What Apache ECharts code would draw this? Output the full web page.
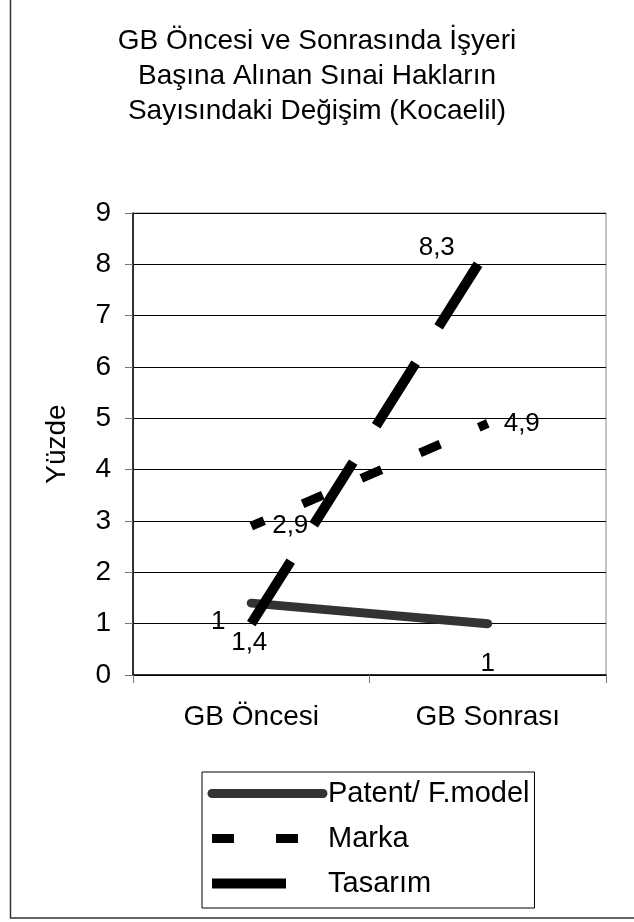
<!DOCTYPE html>
<html>
<head>
<meta charset="utf-8">
<script src="https://cdn.jsdelivr.net/npm/echarts@6/dist/echarts.min.js"></script>
<style>
  html, body { margin: 0; padding: 0; background: #fff; }
  #chart { width: 634px; height: 922px; }
</style>
</head>
<body>
<div id="chart"></div>
<script>
// Categories and values (per workplace, percent)
const categories = ['GB Öncesi', 'GB Sonrası'];
const seriesNames = ['Patent/ F.model', 'Marka', 'Tasarım'];
const patentValues = [1.4, 1];
const markaValues = [2.9, 4.9];
const tasarimValues = [1, 8.3];
const yTicks = [0, 1, 2, 3, 4, 5, 6, 7, 8, 9];

const titleText = 'GB Öncesi ve Sonrasında İşyeri\nBaşına Alınan Sınai Hakların\nSayısındaki Değişim (Kocaelil)';
const yName = 'Yüzde';

const FONT = 'Liberation Sans, Arial, sans-serif';

// Label placement offsets for each point (x, y in px)
const patentLabelOffsets = [[-2, 40], [0, 40]];
const markaLabelOffsets = [[39, 0], [34, 0]];
const tasarimLabelOffsets = [[-33, -2], [-51, -1]];

function fmt(v) {
  return String(v).replace('.', ',');
}

function points(values, offsets) {
  return values.map((v, i) => ({
    value: v,
    label: { offset: offsets[i] }
  }));
}

const labelBase = {
  show: true,
  position: 'inside',
  color: '#000',
  fontFamily: FONT,
  fontSize: 26,
  formatter: p => fmt(p.value)
};

// point markers are only anchors for the value labels
const hiddenSymbol = { color: 'rgba(0,0,0,0)', borderWidth: 0 };

const chart = echarts.init(document.getElementById('chart'), null, { renderer: 'canvas' });

chart.setOption({
  backgroundColor: '#fff',
  animation: false,
  title: {
    text: titleText,
    left: 'center',
    top: 19,
    textStyle: {
      fontFamily: FONT,
      fontSize: 28,
      fontWeight: 'normal',
      color: '#000',
      lineHeight: 35
    }
  },
  graphic: [{
    type: 'rect',
    shape: { x: 10.5, y: -2, width: 630, height: 920 },
    style: { fill: 'none', stroke: '#333', lineWidth: 1.5 },
    silent: true,
    z: 100
  }],
  grid: {
    left: 133,
    right: 28,
    top: 213,
    bottom: 247,
    show: true,
    borderColor: '#888',
    borderWidth: 1,
    backgroundColor: 'transparent'
  },
  legend: {
    orient: 'vertical',
    left: 202,
    top: 772,
    padding: [7, 5, 10, 5],
    itemGap: 16,
    itemWidth: 111,
    itemHeight: 14,
    borderColor: '#000',
    borderWidth: 1,
    data: seriesNames,
    itemStyle: { opacity: 0 },
    lineStyle: { width: 'inherit', type: 'inherit', cap: 'inherit', dashOffset: 0 },
    textStyle: { fontFamily: FONT, fontSize: 29, color: '#000' }
  },
  xAxis: {
    type: 'category',
    data: categories,
    boundaryGap: true,
    axisLine: { lineStyle: { color: '#000', width: 1.5 } },
    axisTick: { show: true, length: 8, interval: 0, lineStyle: { color: '#777', width: 1 } },
    axisLabel: { fontFamily: FONT, fontSize: 28, color: '#000', margin: 28, interval: 0 },
    splitLine: { show: false }
  },
  yAxis: {
    type: 'value',
    min: yTicks[0],
    max: yTicks[yTicks.length - 1],
    interval: 1,
    name: yName,
    nameLocation: 'middle',
    nameRotate: 90,
    nameGap: 62,
    nameTextStyle: { fontFamily: FONT, fontSize: 28, color: '#000' },
    axisLine: { show: true, lineStyle: { color: '#000', width: 1.5 } },
    axisTick: { show: true, length: 8, lineStyle: { color: '#777', width: 1 } },
    axisLabel: { fontFamily: FONT, fontSize: 28, color: '#000', margin: 22 },
    splitLine: { show: true, lineStyle: { color: '#000', width: 1 } }
  },
  series: [
    {
      name: seriesNames[0],
      type: 'line',
      data: points(patentValues, patentLabelOffsets),
      symbol: 'circle',
      symbolSize: 1,
      showSymbol: true,
      itemStyle: hiddenSymbol,
      lineStyle: { color: '#333', width: 9, cap: 'round', join: 'round' },
      label: labelBase,
      z: 3
    },
    {
      name: seriesNames[1],
      type: 'line',
      data: points(markaValues, markaLabelOffsets),
      symbol: 'circle',
      symbolSize: 1,
      showSymbol: true,
      itemStyle: hiddenSymbol,
      lineStyle: { color: '#000', width: 9, type: [22, 42], dashOffset: 8, cap: 'butt' },
      label: labelBase,
      z: 4
    },
    {
      name: seriesNames[2],
      type: 'line',
      data: points(tasarimValues, tasarimLabelOffsets),
      symbol: 'circle',
      symbolSize: 1,
      showSymbol: true,
      itemStyle: hiddenSymbol,
      lineStyle: { color: '#000', width: 10, type: [74, 43], cap: 'butt' },
      label: labelBase,
      z: 5
    }
  ]
});
</script>
</body>
</html>
